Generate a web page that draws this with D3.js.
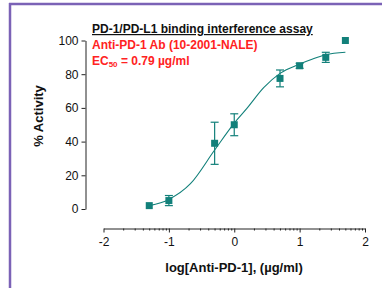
<!DOCTYPE html>
<html>
<head>
<meta charset="utf-8">
<script src="https://cdn.jsdelivr.net/npm/d3@7"></script>
<style>
  body { margin: 0; background: #fff; }
  svg { display: block; font-family: "Liberation Sans", Arial, sans-serif; }
</style>
</head>
<body>
<div id="chart"></div>
<script>
// measured points, x = log10(conc in ug/ml)
const logConc = [-1.3, -1.0, -0.3, 0.0, 0.7, 1.0, 1.4, 1.7]
const activity = [2, 5, 39, 50, 77.5, 85, 90, 100]
const activityErr = [0, 3, 12.5, 6.5, 5, 1.5, 3, 0]

// fitted curve
const fitX = [-1.3, -1.0, -0.67, -0.3, 0.0, 0.2, 0.45, 0.7, 1.0, 1.2, 1.4, 1.7]
const fitY = [2, 5.7, 15, 35, 51, 60, 72, 80.5, 86, 89, 91.5, 93]

const xTicks = [-2, -1, 0, 1, 2]
const yTicks = [0, 20, 40, 60, 80, 100]
const minorMult = [2, 3, 4, 5, 6, 7, 8, 9]

const width = 382
const height = 288
const teal = '#12807a'

const svg = d3.select('#chart').append('svg')
  .attr('width', width)
  .attr('height', height)

// purple frame (top + left only)
svg.append('line')
  .attr('x1', 9).attr('x2', width).attr('y1', 4).attr('y2', 4)
  .attr('stroke', '#7b62b6').attr('stroke-width', 2.5)
svg.append('line')
  .attr('x1', 10).attr('x2', 10).attr('y1', 3).attr('y2', height)
  .attr('stroke', '#7b62b6').attr('stroke-width', 2.5)

const x = d3.scaleLinear().domain([-2, 2]).range([103.5, 365])
const y = d3.scaleLinear().domain([0, 100]).range([209, 40.5])

// y axis
const yAxis = svg.append('g')
  .attr('transform', 'translate(85.5,0)')
  .call(d3.axisLeft(y).tickValues(yTicks).tickSize(4).tickSizeOuter(0).tickPadding(3))
yAxis.selectAll('text').attr('font-size', 12).attr('fill', '#111')
  .attr('font-family', '"Liberation Sans", Arial, sans-serif')
yAxis.selectAll('line, path').attr('stroke', '#222')

// x axis
const xAxisY = 228.5
const minorTicks = []
xTicks.slice(0, -1).forEach(d => {
  minorMult.forEach(m => minorTicks.push(d + Math.log10(m)))
})
const xMinor = svg.append('g')
  .attr('transform', `translate(0,${xAxisY})`)
  .call(d3.axisBottom(x).tickValues(minorTicks).tickSize(2).tickSizeOuter(0).tickFormat(''))
xMinor.select('.domain').remove()
xMinor.selectAll('line').attr('stroke', '#222')

const xAxis = svg.append('g')
  .attr('transform', `translate(0,${xAxisY})`)
  .call(d3.axisBottom(x).tickValues(xTicks).tickSize(4).tickSizeOuter(0).tickPadding(5)
    .tickFormat(d => String(d)))
xAxis.selectAll('text').attr('font-size', 12).attr('fill', '#111')
  .attr('font-family', '"Liberation Sans", Arial, sans-serif')
xAxis.selectAll('line, path').attr('stroke', '#222')

// fit curve
const fit = fitX.map((d, i) => [d, fitY[i]])
svg.append('path')
  .datum(fit)
  .attr('fill', 'none')
  .attr('stroke', teal)
  .attr('stroke-width', 1.1)
  .attr('d', d3.line().x(d => x(d[0])).y(d => y(d[1])).curve(d3.curveMonotoneX))

// error bars + markers
const pts = logConc.map((d, i) => ({ x: d, y: activity[i], e: activityErr[i] }))
const eb = svg.append('g').selectAll('g')
  .data(pts.filter(d => d.e > 0))
  .enter().append('g')
  .attr('stroke', teal).attr('stroke-width', 1.2)
eb.append('line')
  .attr('x1', d => x(d.x)).attr('x2', d => x(d.x))
  .attr('y1', d => y(d.y + d.e)).attr('y2', d => y(d.y - d.e))
eb.append('line')
  .attr('x1', d => x(d.x) - 4).attr('x2', d => x(d.x) + 4)
  .attr('y1', d => y(d.y + d.e)).attr('y2', d => y(d.y + d.e))
eb.append('line')
  .attr('x1', d => x(d.x) - 4).attr('x2', d => x(d.x) + 4)
  .attr('y1', d => y(d.y - d.e)).attr('y2', d => y(d.y - d.e))

const sq = 7
svg.append('g').selectAll('rect')
  .data(pts)
  .enter().append('rect')
  .attr('x', d => x(d.x) - sq / 2)
  .attr('y', d => y(d.y) - sq / 2)
  .attr('width', sq).attr('height', sq)
  .attr('fill', teal)

// texts
svg.append('text')
  .attr('x', 92).attr('y', 33)
  .attr('font-size', 12).attr('font-weight', 'bold')
  .attr('text-decoration', 'underline')
  .attr('fill', '#111')
  .text('PD-1/PD-L1 binding interference assay')

svg.append('text')
  .attr('x', 92).attr('y', 49)
  .attr('font-size', 12).attr('font-weight', 'bold')
  .attr('fill', '#f22')
  .text('Anti-PD-1 Ab (10-2001-NALE)')

const ec = svg.append('text')
  .attr('x', 92).attr('y', 64.5)
  .attr('font-size', 12).attr('font-weight', 'bold')
  .attr('fill', '#f22')
ec.append('tspan').text('EC')
ec.append('tspan').attr('font-size', 8).attr('dy', 2).text('50')
ec.append('tspan').attr('dy', -2).text(' = 0.79 \u00b5g/ml')

svg.append('text')
  .attr('transform', 'translate(43,116) rotate(-90)')
  .attr('text-anchor', 'middle')
  .attr('font-size', 13).attr('font-weight', 'bold')
  .attr('fill', '#111')
  .text('% Activity')

svg.append('text')
  .attr('x', 234).attr('y', 272)
  .attr('text-anchor', 'middle')
  .attr('font-size', 13).attr('font-weight', 'bold')
  .attr('fill', '#111')
  .text('log[Anti-PD-1], (\u00b5g/ml)')
</script>
</body>
</html>
